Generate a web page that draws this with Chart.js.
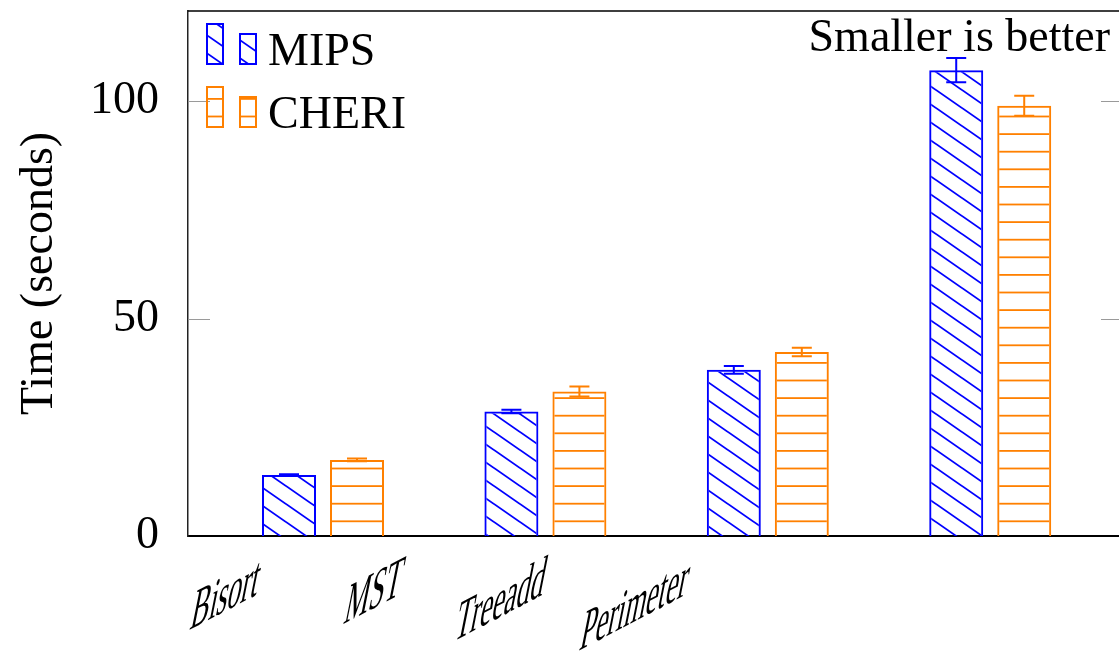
<!DOCTYPE html>
<html>
<head>
<meta charset="utf-8">
<script src="https://cdn.jsdelivr.net/npm/chart.js@4.4.1/dist/chart.umd.min.js"></script>
<style>
  html, body { margin: 0; padding: 0; overflow: hidden; background: #fff; }
  #wrap { width: 1119px; height: 660px; overflow: hidden; }
</style>
</head>
<body>
<div id="wrap"><canvas id="timeChart" width="1140" height="660"></canvas></div>
<script>
const benchmarks = ['Bisort', 'MST', 'Treeadd', 'Perimeter'];
const mipsTimes = [14.0, 28.6, 38.2, 107.1];
const mipsErr = [0.2, 0.4, 0.9, 2.8];
const cheriTimes = [17.5, 33.2, 42.3, 98.9];
const cheriErr = [0.3, 1.15, 1.0, 2.3];
const yTicks = [0, 50, 100];

const BLUE = '#0000ff';
const ORANGE = '#ff8000';
const FONT = '"Liberation Serif", "Times New Roman", serif';
// tick labels sit on a tighter pitch than the bar groups in the original figure
const LABEL_START = -0.301;
const LABEL_STEP = 0.643;

const canvas = document.getElementById('timeChart');
const ctx = canvas.getContext('2d');

// hatch patterns (anchored to the canvas, like pgf patterns)
function diagonalPattern() {
  const c = document.createElement('canvas');
  c.width = 26; c.height = 18;
  const g = c.getContext('2d');
  g.strokeStyle = BLUE;
  g.lineWidth = 1.8;
  for (const dx of [-26, 0, 26]) {
    g.beginPath();
    g.moveTo(dx - 26, -18);
    g.lineTo(dx + 52, 36);
    g.stroke();
  }
  return ctx.createPattern(c, 'repeat');
}

function horizontalPattern() {
  const c = document.createElement('canvas');
  c.width = 8; c.height = 88;
  const g = c.getContext('2d');
  g.fillStyle = ORANGE;
  for (let k = 0; k < 5; k++) g.fillRect(0, 10.9 + 17.6 * k - 0.9, 8, 1.8);
  return ctx.createPattern(c, 'repeat');
}

const errorBars = {
  id: 'errorBars',
  afterDatasetsDraw(chart) {
    const c = chart.ctx, y = chart.scales.y;
    chart.data.datasets.forEach((ds, i) => {
      chart.getDatasetMeta(i).data.forEach((bar, j) => {
        const v = ds.data[j].y, e = ds.errors[j];
        const top = y.getPixelForValue(v + e), bot = y.getPixelForValue(v - e);
        c.save();
        c.strokeStyle = ds.borderColor;
        c.lineWidth = 2;
        c.beginPath();
        c.moveTo(bar.x, top); c.lineTo(bar.x, bot);
        c.moveTo(bar.x - 10, top); c.lineTo(bar.x + 10, top);
        c.moveTo(bar.x - 10, bot); c.lineTo(bar.x + 10, bot);
        c.stroke();
        c.restore();
      });
    });
  }
};

// top border + inward tick marks on both sides
const frame = {
  id: 'frame',
  beforeDatasetsDraw(chart) {
    const { ctx: c, chartArea: a, scales: { y } } = chart;
    c.save();
    c.strokeStyle = '#9a9a9a';
    c.lineWidth = 1.2;
    y.ticks.forEach(t => {
      if (t.value === 0) return;
      const py = Math.round(y.getPixelForValue(t.value)) + 0.5;
      c.beginPath();
      c.moveTo(a.left, py); c.lineTo(a.left + 22, py);
      c.moveTo(a.right - 22, py); c.lineTo(a.right, py);
      c.stroke();
    });
    c.strokeStyle = '#000';
    c.lineWidth = 1.6;
    c.beginPath();
    c.moveTo(a.left, a.top); c.lineTo(a.right, a.top); c.lineTo(a.right, a.bottom);
    c.stroke();
    c.restore();
  }
};

// slanted benchmark names, placed through the x scale
const benchLabels = {
  id: 'benchLabels',
  afterDraw(chart) {
    const { ctx: c, chartArea: a, scales: { x } } = chart;
    c.save();
    c.font = '40px ' + FONT;
    c.fillStyle = '#000';
    c.textAlign = 'right';
    c.textBaseline = 'alphabetic';
    benchmarks.forEach((name, i) => {
      c.save();
      c.translate(x.getPixelForValue(LABEL_START + LABEL_STEP * i), a.bottom + 59);
      c.transform(0.6875, -0.36, -0.3, 1.5, 0, 0);
      c.fillText(name, 0, 0);
      c.restore();
    });
    c.restore();
  }
};

// legend in the top-left corner and the note in the top-right corner
const notes = {
  id: 'notes',
  afterDraw(chart) {
    const { ctx: c, chartArea: a } = chart;
    c.save();
    c.font = '46px ' + FONT;
    c.fillStyle = '#000';
    chart.data.datasets.forEach((ds, i) => {
      const top = a.top + 12 + i * 63;
      [[18, 0, 42], [51, 10, 32]].forEach(([dx, dy, h]) => {
        c.fillStyle = ds.backgroundColor;
        c.fillRect(a.left + dx, top + dy, 18, h);
        c.strokeStyle = ds.borderColor;
        c.lineWidth = 2;
        c.strokeRect(a.left + dx + 1, top + dy + 1, 16, h - 2);
      });
      c.fillStyle = '#000';
      c.textAlign = 'left';
      c.textBaseline = 'alphabetic';
      c.fillText(ds.label, a.left + 80, top + 42);
    });
    c.textAlign = 'right';
    c.fillText('Smaller is better', a.right - 13, a.top + 40);
    c.restore();
  }
};

const noPadding = s => { s.paddingLeft = 0; s.paddingRight = 0; s.paddingTop = 0; s.paddingBottom = 0; };

new Chart(ctx, {
  type: 'bar',
  data: {
    datasets: [
      {
        label: 'MIPS',
        data: mipsTimes.map((v, i) => ({ x: i, y: v })),
        errors: mipsErr,
        backgroundColor: diagonalPattern(),
        borderColor: BLUE,
        borderWidth: 2
      },
      {
        label: 'CHERI',
        data: cheriTimes.map((v, i) => ({ x: i, y: v })),
        errors: cheriErr,
        backgroundColor: horizontalPattern(),
        borderColor: ORANGE,
        borderWidth: 2
      }
    ]
  },
  options: {
    responsive: false,
    animation: false,
    layout: { padding: { top: 11, right: 17, left: 0, bottom: 0 } },
    datasets: { bar: { categoryPercentage: 0.6115, barPercentage: 0.794 } },
    plugins: { legend: { display: false }, tooltip: { enabled: false } },
    scales: {
      x: {
        type: 'linear',
        display: false,
        offset: false,
        min: -0.607,
        max: 3.597,
        afterBuildTicks: s => { s.ticks = benchmarks.map((_, i) => ({ value: i })); }
      },
      xl: {
        type: 'linear',
        position: 'bottom',
        min: 0,
        max: 1,
        grid: { display: false },
        border: { display: true, color: '#000', width: 2 },
        ticks: { display: false },
        afterFit: s => { s.height = 124; noPadding(s); }
      },
      y: {
        min: 0,
        max: 120.7,
        afterBuildTicks: s => { s.ticks = yTicks.map(v => ({ value: v })); },
        afterFit: s => { s.width = 188; noPadding(s); },
        grid: { display: false },
        border: { display: true, color: '#222', width: 1.5 },
        ticks: { padding: 21, color: '#000', font: { family: FONT, size: 46 } },
        title: {
          display: true,
          text: 'Time (seconds)',
          color: '#000',
          font: { family: FONT, size: 46 },
          padding: { top: 12, bottom: 0 }
        }
      }
    }
  },
  plugins: [frame, errorBars, benchLabels, notes]
});
</script>
</body>
</html>
